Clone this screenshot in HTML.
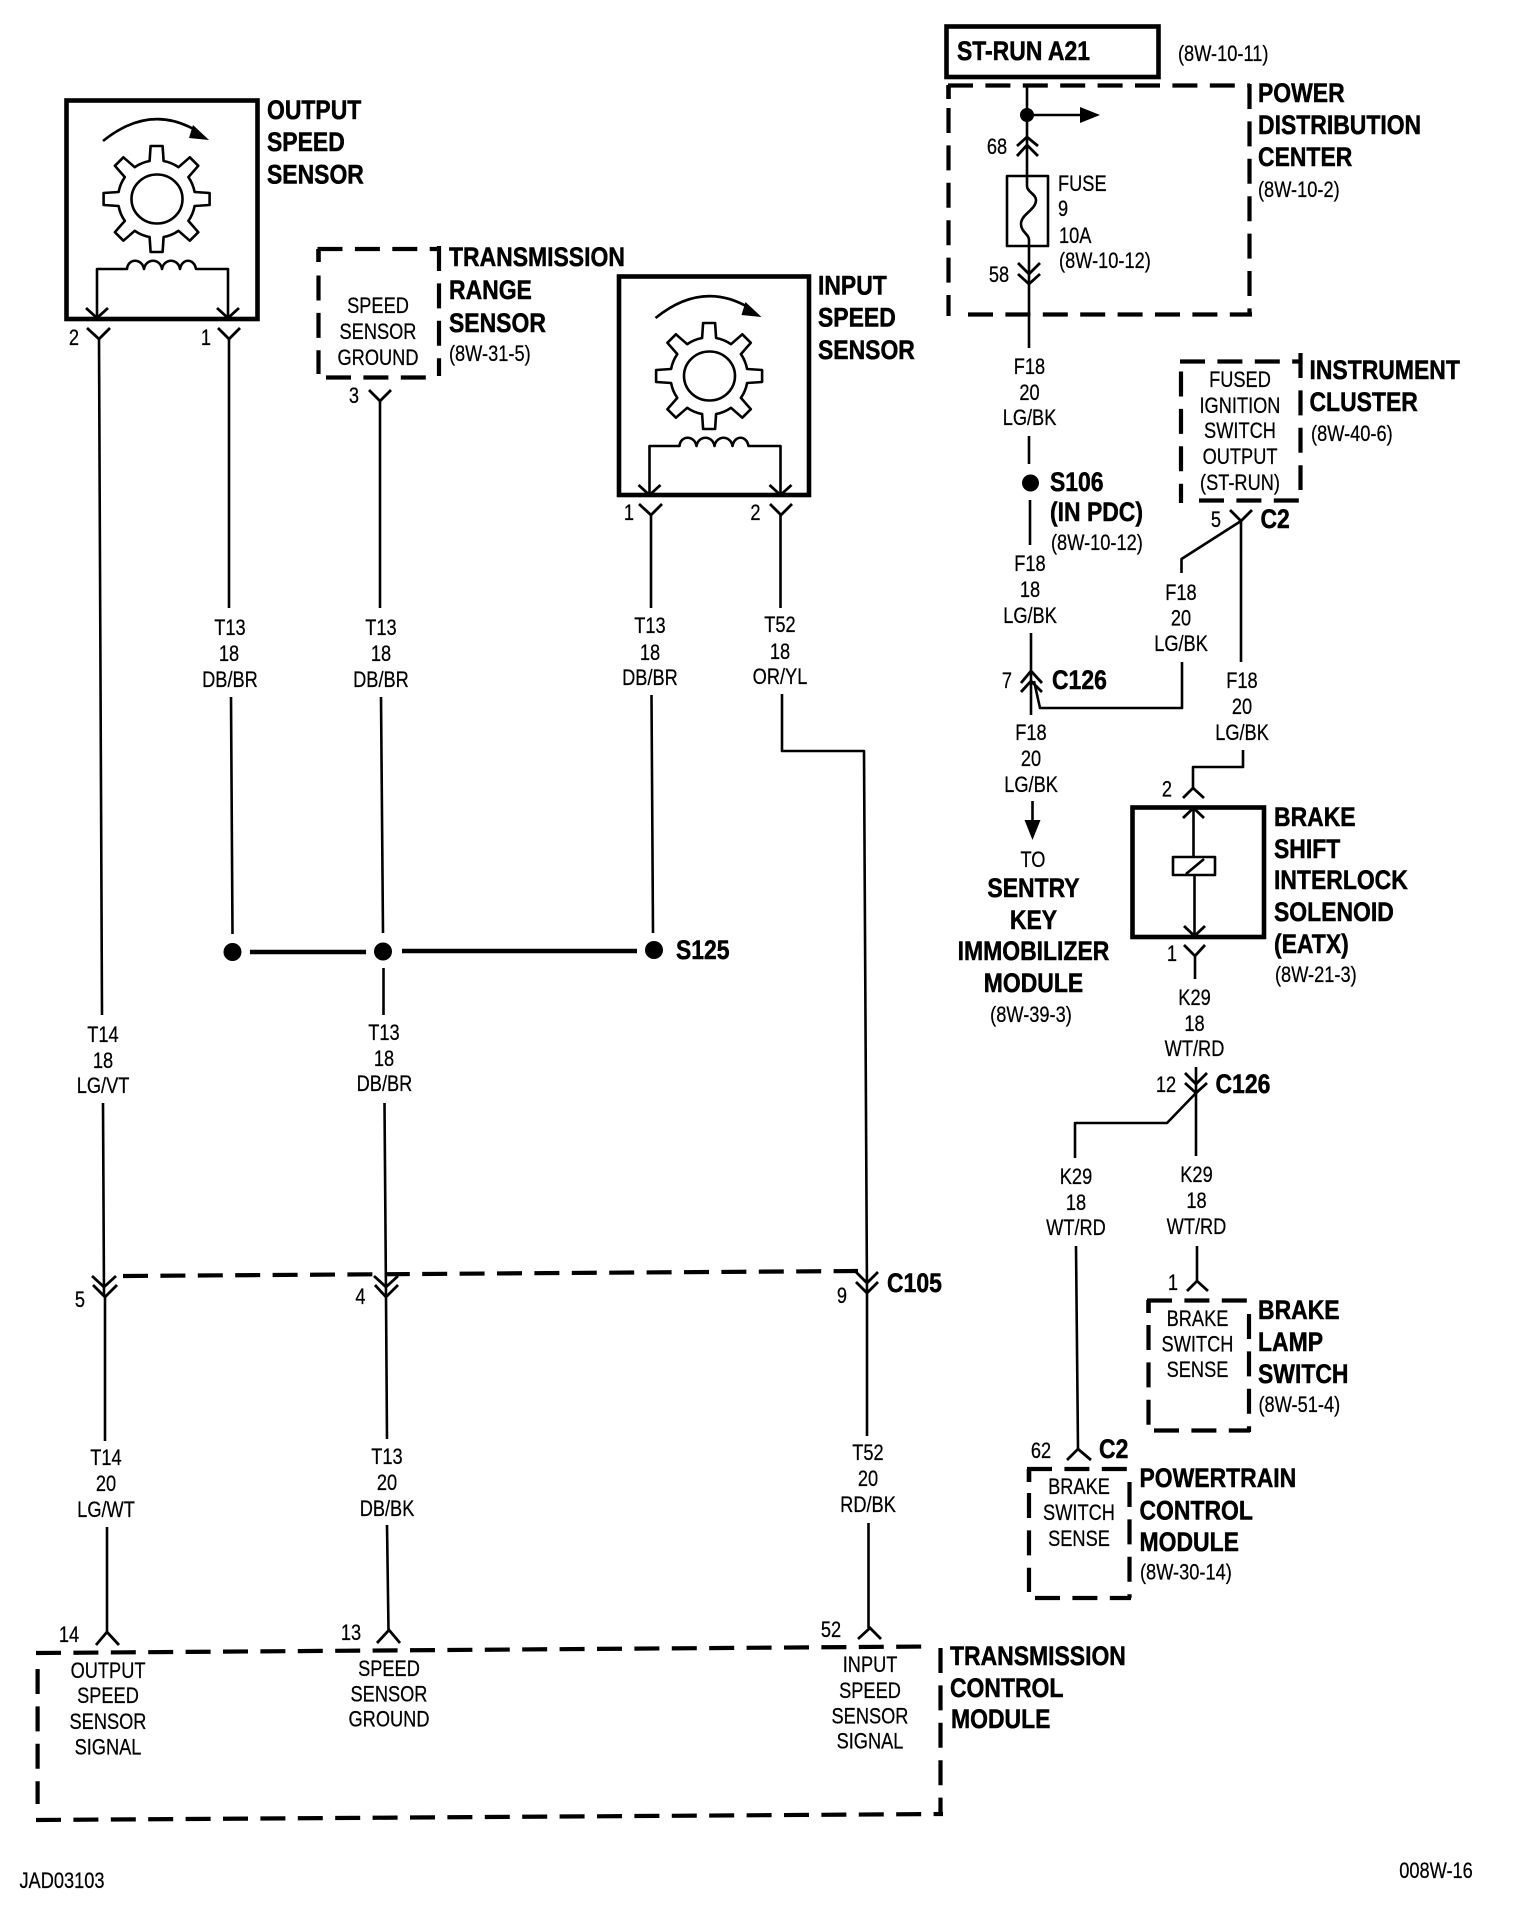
<!DOCTYPE html>
<html><head><meta charset="utf-8"><title>Wiring diagram</title>
<style>
html,body{margin:0;padding:0;background:#fff}
svg{display:block}
text{fill:#000;font-family:"Liberation Sans",sans-serif;transform-box:fill-box}
.n{font-size:22.5px;text-anchor:middle;transform-origin:50% 50%;transform:scaleX(.81);stroke:#000;stroke-width:.25}
.l{font-size:22.5px;text-anchor:start;transform-origin:0 50%;transform:scaleX(.81);stroke:#000;stroke-width:.25}
.b{font-size:27px;font-weight:bold;text-anchor:start;transform-origin:0 50%;transform:scaleX(.85);stroke:#000;stroke-width:.5}
.m{font-size:27px;font-weight:bold;text-anchor:middle;transform-origin:50% 50%;transform:scaleX(.85);stroke:#000;stroke-width:.5}
.w{fill:none;stroke:#000;stroke-width:2.6;stroke-linejoin:round}
.c{fill:none;stroke:#000;stroke-width:2.8;stroke-linejoin:miter}
.x{fill:none;stroke:#000;stroke-width:4.6}
.d{fill:none;stroke:#000;stroke-width:4.2;stroke-dasharray:25 12.4}
</style></head><body>
<svg width="1520" height="1926" viewBox="0 0 1520 1926" xmlns="http://www.w3.org/2000/svg">
<rect width="1520" height="1926" fill="#fff"/>
<defs>
<g id="sensor">
  <path class="w" d="M103,141Q150,103 197,131"/>
  <path d="M209,140L193,125L189,138Z" fill="#000"/>
  <path class="w" stroke-width="2.8" d="M-7,-38L-6,-53L6,-53L7,-38A38,38 0 0 1 21.9,-31.8L33.2,-41.7L41.7,-33.2L31.8,-21.9A38,38 0 0 1 38,-7L53,-6L53,6L38,7A38,38 0 0 1 31.8,21.9L41.7,33.2L33.2,41.7L21.9,31.8A38,38 0 0 1 7,38L6,53L-6,53L-7,38A38,38 0 0 1 -21.9,31.8L-33.2,41.7L-41.7,33.2L-31.8,21.9A38,38 0 0 1 -38,7L-53,6L-53,-6L-38,-7A38,38 0 0 1 -31.8,-21.9L-41.7,-33.2L-33.2,-41.7L-21.9,-31.8A38,38 0 0 1 -7,-38Z" transform="translate(156.6,199)"/>
  <ellipse class="w" cx="157" cy="199" rx="25.5" ry="24.5"/>
  <path class="w" d="M97,318V269H127C128,258 142,258 144,269C146,258 160,258 162,269C164,258 178,258 180,269C182,258 194,258 196,269H228V318"/>
  <path class="c" d="M86,308L97,318L108,308M217,308L228,318L239,308"/>
</g>
</defs>

<!-- Output speed sensor -->
<rect class="x" x="66.5" y="100.5" width="191" height="218.5"/>
<use href="#sensor"/>
<path class="c" d="M87,328L99,339L110,328M218,328L229,339L240,328M369,390L380,401L391,390"/>
<text class="b" x="267" y="119">OUTPUT</text>
<text class="b" x="267" y="151">SPEED</text>
<text class="b" x="267" y="183.5">SENSOR</text>
<text class="n" x="74" y="345">2</text>
<text class="n" x="206" y="345">1</text>

<!-- Transmission range sensor -->
<path class="d" d="M317.5,249H439M326,377.5H428M318.5,275.5V374M439,246V376"/>
<path class="x" stroke-width="4.2" d="M318.5,249V262"/>
<text class="n" x="378" y="313">SPEED</text>
<text class="n" x="378" y="339">SENSOR</text>
<text class="n" x="378" y="365">GROUND</text>
<text class="b" x="449" y="266">TRANSMISSION</text>
<text class="b" x="449" y="299">RANGE</text>
<text class="b" x="449" y="332">SENSOR</text>
<text class="l" x="449" y="361">(8W-31-5)</text>
<text class="n" x="354" y="403">3</text>

<!-- Input speed sensor -->
<rect class="x" x="619" y="276.5" width="190" height="218.5"/>
<use href="#sensor" transform="translate(552.5,177)"/>
<path class="c" d="M639,504L651,515L662,504M770,504L781,515L792,504"/>
<text class="b" x="818" y="294.5">INPUT</text>
<text class="b" x="818" y="326.5">SPEED</text>
<text class="b" x="818" y="359">SENSOR</text>
<text class="n" x="629" y="520">1</text>
<text class="n" x="755.5" y="520">2</text>

<!-- Left-side wires -->
<path class="w" d="M99,339L102,1015M103,1103L104,1296M105,1297V1441M107,1527V1632"/>
<path class="w" d="M229,339V608M231,697L232.5,934"/>
<path class="w" d="M380,401V608M381,697L383,933M383.5,968V1015M384.5,1103L386,1296M386,1297L387,1439M387,1525L388.5,1630"/>
<path class="w" d="M651,515V608M651.5,695L653,933"/>
<path class="w" d="M780.5,515V608M782,694V751H864L867,1293V1436M868.5,1523V1628"/>
<text class="n" x="230" y="635">T13</text><text class="n" x="229" y="661">18</text><text class="n" x="230" y="687">DB/BR</text>
<text class="n" x="381" y="635">T13</text><text class="n" x="381" y="661">18</text><text class="n" x="381" y="687">DB/BR</text>
<text class="n" x="650" y="633">T13</text><text class="n" x="650" y="660">18</text><text class="n" x="650" y="685">DB/BR</text>
<text class="n" x="780" y="632">T52</text><text class="n" x="780" y="659">18</text><text class="n" x="780" y="684">OR/YL</text>

<!-- S125 -->
<circle cx="232.5" cy="952" r="9"/><circle cx="383" cy="951.5" r="9"/><circle cx="654" cy="950" r="9"/>
<path class="x" stroke-width="5" d="M250,952H366M402,951H637"/>
<text class="b" x="676" y="959">S125</text>

<text class="n" x="103" y="1042">T14</text><text class="n" x="103" y="1068">18</text><text class="n" x="103" y="1093">LG/VT</text>
<text class="n" x="384" y="1040">T13</text><text class="n" x="384" y="1066">18</text><text class="n" x="384.5" y="1091">DB/BR</text>

<!-- C105 -->
<path class="d" stroke-width="2.6" d="M123,1276L858,1271"/>
<path class="c" d="M92,1276L104,1287L116,1276M93,1285L105,1297L117,1285"/>
<path class="c" d="M374,1276L386,1287L398,1276M375,1285L386,1297L398,1285"/>
<path class="c" d="M856,1272L867,1283L878,1272M856,1282L867,1293L878,1282"/>
<text class="n" x="80" y="1307">5</text><text class="n" x="360.5" y="1304">4</text><text class="n" x="842" y="1303">9</text>
<text class="b" x="887" y="1292">C105</text>

<text class="n" x="106" y="1465">T14</text><text class="n" x="106" y="1491">20</text><text class="n" x="106" y="1517">LG/WT</text>
<text class="n" x="387" y="1464">T13</text><text class="n" x="387" y="1490">20</text><text class="n" x="387" y="1516">DB/BK</text>
<text class="n" x="868" y="1460">T52</text><text class="n" x="868" y="1486">20</text><text class="n" x="868" y="1512">RD/BK</text>

<!-- TCM -->
<path class="c" d="M96,1645L107,1632L119,1645M377,1643L389,1630L400,1643M858,1639L870,1628L881,1639"/>
<text class="n" x="69" y="1642">14</text><text class="n" x="351" y="1640">13</text><text class="n" x="831" y="1637">52</text>
<path class="d" stroke-width="3.4" d="M36,1653L928,1646.5M36,1820L943,1814"/>
<path class="d" stroke-width="3.6" d="M37.6,1669V1804M940.5,1648V1816"/>
<text class="n" x="108" y="1678">OUTPUT</text><text class="n" x="108" y="1703">SPEED</text><text class="n" x="108" y="1729">SENSOR</text><text class="n" x="108" y="1754.5">SIGNAL</text>
<text class="n" x="389" y="1676">SPEED</text><text class="n" x="389" y="1701.5">SENSOR</text><text class="n" x="389" y="1726.5">GROUND</text>
<text class="n" x="870" y="1672">INPUT</text><text class="n" x="870" y="1698">SPEED</text><text class="n" x="870" y="1723.5">SENSOR</text><text class="n" x="870" y="1748.5">SIGNAL</text>
<text class="b" x="950" y="1665">TRANSMISSION</text><text class="b" x="950" y="1697">CONTROL</text><text class="b" x="951" y="1728">MODULE</text>

<text class="n" x="62" y="1888">JAD03103</text>
<text class="n" x="1436" y="1878">008W-16</text>

<!-- ST-RUN + PDC -->
<rect class="x" x="946.5" y="26.5" width="212" height="50.5"/>
<text class="b" x="957" y="60">ST-RUN A21</text>
<text class="l" x="1178" y="61">(8W-10-11)</text>
<path class="d" d="M948,85.5H1250M968,314.5H1252M948.5,108V316M1249.5,84V314"/>
<path class="x" stroke-width="4.2" d="M948.5,85V99"/>
<path class="w" d="M1027,86V186C1027,192 1036,194 1036,200C1036,210 1021,214 1021,224C1021,232 1029,234 1029,240V348"/>
<circle cx="1027" cy="115" r="7"/>
<path class="w" d="M1027,115H1082"/><path d="M1080,107L1100,115L1080,123Z"/>
<path class="c" d="M1017,146L1027,137L1038,146M1017,156L1027,145L1038,156M1018,263L1029,274L1040,263M1018,274L1029,284L1040,274"/>
<rect class="w" x="1007" y="176" width="41" height="70"/>
<text class="n" x="997" y="154">68</text><text class="n" x="999" y="282">58</text>
<text class="l" x="1058" y="191">FUSE</text><text class="l" x="1058" y="216">9</text><text class="l" x="1059" y="243">10A</text><text class="l" x="1059" y="268">(8W-10-12)</text>
<text class="b" x="1258" y="102">POWER</text><text class="b" x="1258" y="134">DISTRIBUTION</text><text class="b" x="1258" y="166">CENTER</text>
<text class="l" x="1258" y="197">(8W-10-2)</text>

<text class="n" x="1029.5" y="374">F18</text><text class="n" x="1029.5" y="400">20</text><text class="n" x="1029.5" y="425">LG/BK</text>
<path class="w" d="M1029,436V464M1030,500V545"/>
<circle cx="1030.5" cy="483" r="8.5"/>
<text class="b" x="1050" y="491">S106</text><text class="b" x="1050" y="521">(IN PDC)</text><text class="l" x="1051" y="550">(8W-10-12)</text>
<text class="n" x="1030" y="571">F18</text><text class="n" x="1030" y="597">18</text><text class="n" x="1030" y="623">LG/BK</text>

<!-- Instrument cluster -->
<path class="d" d="M1180,361.5H1301M1199,500.5H1301M1181,371.5V503M1300.5,353V490"/>
<text class="n" x="1240" y="387">FUSED</text><text class="n" x="1240" y="413">IGNITION</text><text class="n" x="1240" y="438">SWITCH</text><text class="n" x="1240" y="464">OUTPUT</text><text class="n" x="1240" y="490">(ST-RUN)</text>
<text class="b" x="1309.5" y="379">INSTRUMENT</text><text class="b" x="1309.5" y="411">CLUSTER</text><text class="l" x="1311" y="441">(8W-40-6)</text>
<path class="c" d="M1230,510L1241,521L1252,510"/>
<text class="n" x="1216" y="527">5</text><text class="b" x="1260.5" y="528">C2</text>
<path class="w" d="M1241,521V662M1241,521L1181.5,559V573"/>
<text class="n" x="1181" y="600">F18</text><text class="n" x="1181" y="625.5">20</text><text class="n" x="1181" y="651">LG/BK</text>
<path class="w" d="M1182,662V708H1040L1034,681"/>
<path class="w" d="M1031,633V715"/>
<path class="c" d="M1021,683L1031,671L1042,683M1021,692L1031,681L1042,692"/>
<text class="n" x="1007" y="688">7</text><text class="b" x="1052" y="689">C126</text>

<text class="n" x="1031" y="740">F18</text><text class="n" x="1031" y="766">20</text><text class="n" x="1031" y="792">LG/BK</text>
<path class="w" d="M1032.5,801V825"/><path d="M1024.5,820H1040.5L1032.5,840Z"/>
<text class="n" x="1033" y="867">TO</text>
<text class="m" x="1033.5" y="897">SENTRY</text><text class="m" x="1033.5" y="929">KEY</text><text class="m" x="1033.5" y="960">IMMOBILIZER</text><text class="m" x="1033.5" y="992">MODULE</text>
<text class="n" x="1031" y="1022">(8W-39-3)</text>

<!-- Brake shift interlock -->
<text class="n" x="1242" y="688">F18</text><text class="n" x="1242" y="714">20</text><text class="n" x="1242" y="740">LG/BK</text>
<path class="w" d="M1243,750V767H1193V788"/>
<path class="c" d="M1183,798L1193,788L1204,798"/>
<text class="n" x="1167" y="796.5">2</text>
<rect class="x" x="1132.5" y="807.5" width="131.5" height="129.5"/>
<path class="w" d="M1193.5,808V857M1194.5,875V935"/>
<rect class="w" x="1173" y="857" width="42" height="18"/>
<path class="w" d="M1186,874L1204,859"/>
<path class="c" d="M1183,818L1193.5,808L1204,818M1184,926L1194.5,936L1205,926"/>
<path class="c" d="M1184,945L1195,956L1205,945"/>
<path class="w" d="M1195,956V979"/>
<text class="n" x="1172" y="961">1</text>
<text class="b" x="1274" y="826">BRAKE</text><text class="b" x="1274" y="858">SHIFT</text><text class="b" x="1274" y="889">INTERLOCK</text><text class="b" x="1274" y="921">SOLENOID</text><text class="b" x="1274" y="953">(EATX)</text>
<text class="l" x="1275" y="982">(8W-21-3)</text>
<text class="n" x="1194.5" y="1005">K29</text><text class="n" x="1194.5" y="1031">18</text><text class="n" x="1194.5" y="1056">WT/RD</text>
<path class="w" d="M1196,1067V1156M1196,1093L1167,1123H1075V1158"/>
<path class="c" d="M1185,1073L1196,1084L1207,1073M1185,1083L1196,1093L1207,1083"/>
<text class="n" x="1166" y="1092">12</text><text class="b" x="1215.5" y="1093">C126</text>
<text class="n" x="1076" y="1184">K29</text><text class="n" x="1076" y="1210">18</text><text class="n" x="1076" y="1235">WT/RD</text>
<text class="n" x="1196.5" y="1182">K29</text><text class="n" x="1196.5" y="1208">18</text><text class="n" x="1196.5" y="1234">WT/RD</text>
<path class="w" d="M1076,1246L1078,1449M1197,1246V1281"/>

<!-- Brake lamp switch -->
<path class="c" d="M1187,1291L1197,1281L1208,1291"/>
<text class="n" x="1173" y="1290">1</text>
<path class="d" d="M1147,1300.5H1250M1154,1430.5H1250M1148.5,1325V1426M1249,1314V1432"/>
<path class="x" stroke-width="4.2" d="M1148.5,1300V1313"/>
<text class="n" x="1197.5" y="1326">BRAKE</text><text class="n" x="1197.5" y="1351.5">SWITCH</text><text class="n" x="1197.5" y="1377">SENSE</text>
<text class="b" x="1258" y="1319">BRAKE</text><text class="b" x="1258" y="1351">LAMP</text><text class="b" x="1258" y="1383">SWITCH</text>
<text class="l" x="1258.5" y="1412">(8W-51-4)</text>

<!-- PCM -->
<path class="c" d="M1067,1460L1078,1449L1091,1460"/>
<text class="n" x="1041" y="1458">62</text><text class="b" x="1099" y="1458">C2</text>
<path class="d" d="M1027,1469H1130M1035,1598H1131M1029,1493V1592M1129.5,1482V1598"/>
<path class="x" stroke-width="4.2" d="M1029,1469V1482"/>
<text class="n" x="1079" y="1494">BRAKE</text><text class="n" x="1079" y="1520">SWITCH</text><text class="n" x="1079" y="1546">SENSE</text>
<text class="b" x="1139.5" y="1487">POWERTRAIN</text><text class="b" x="1139.5" y="1519.5">CONTROL</text><text class="b" x="1139.5" y="1551">MODULE</text>
<text class="l" x="1140" y="1579.5">(8W-30-14)</text>
</svg>
</body></html>
